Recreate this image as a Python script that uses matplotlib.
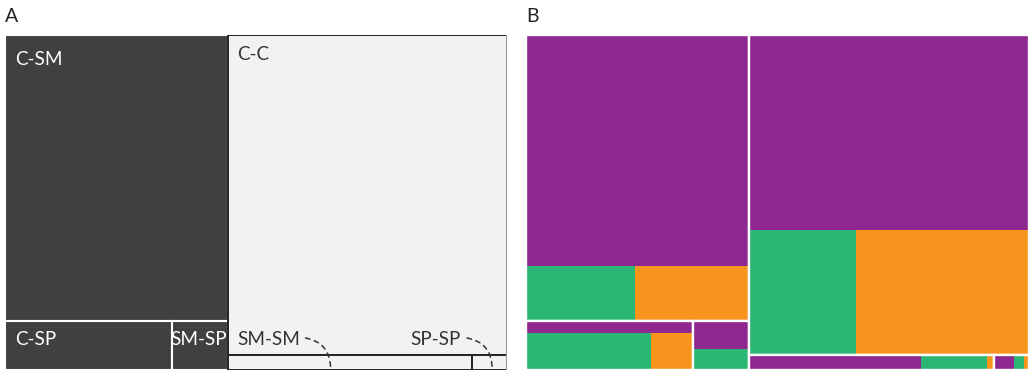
import matplotlib.pyplot as plt
from matplotlib.patches import Rectangle

plt.rcParams['font.family'] = ['Lato', 'DejaVu Sans']

# tipos de par e sua participacao no total (%)
pares = ['C-SM', 'C-SP', 'SM-SP', 'C-C', 'SM-SM', 'SP-SP']
valores = [37.9, 4.87, 1.63, 53.1, 2.18, 0.31]
# duas colunas: um bloco grande em cima e dois blocos lado a lado embaixo
colunas = [['C-SM', 'C-SP', 'SM-SP'], ['C-C', 'SM-SM', 'SP-SP']]

# painel B: composicao de cada tipo de par (roxo, verde, laranja), em %
roxo = [80.7, 25.0, 57.0, 60.8, 70.0, 57.6]
verde = [9.4, 56.0, 42.0, 15.0, 27.2, 27.3]
laranja = [9.9, 19.0, 1.0, 24.2, 2.8, 15.1]
em_linha = ['SM-SM', 'SP-SP']  # blocos muito achatados: as tres cores lado a lado

escuros = ['C-SM', 'C-SP', 'SM-SP']

COR_ESCURO = '#404040'
COR_CLARO = '#f1f2f4'
CORES_B = ['#8e278f', '#2bb673', '#f7941d']


def layout(vals):
    v = dict(zip(pares, vals))
    total = sum(vals)
    rects = {}
    x = 0
    for topo, a, b in colunas:
        soma = v[topo] + v[a] + v[b]
        w = soma / total
        h_topo = v[topo] / soma
        rects[topo] = (x, 1 - h_topo, w, h_topo)
        wa = w * v[a] / (v[a] + v[b])
        rects[a] = (x, 0, wa, 1 - h_topo)
        rects[b] = (x + wa, 0, w - wa, 1 - h_topo)
        x += w
    return rects


rects = layout(valores)

W, H = 1029, 371
fig = plt.figure(figsize=(W / 100, H / 100), dpi=100)
axA = fig.add_axes([5 / W, 1 / H, 502 / W, 335 / H])
axB = fig.add_axes([526 / W, 1 / H, 503 / W, 335 / H])
for ax in (axA, axB):
    ax.set_xlim(0, 1)
    ax.set_ylim(0, 1)
    ax.axis('off')

fig.text(5 / W, 1 - 22 / H, 'A', fontsize=14, color='#222222', va='baseline')
fig.text(526 / W, 1 - 22 / H, 'B', fontsize=14, color='#222222', va='baseline')

# ---- Painel A
for p in escuros:
    x, y, w, h = rects[p]
    axA.add_patch(Rectangle((x, y), w, h, facecolor=COR_ESCURO, edgecolor='white', lw=1.5))
for p in pares:
    if p in escuros:
        continue
    x, y, w, h = rects[p]
    axA.add_patch(Rectangle((x, y), w, h, facecolor=COR_CLARO, edgecolor='#222222', lw=1.4))
x, y, w, h = rects['C-C']
axA.plot([x + w, x + w], [0, 1], color='#999999', lw=1.5)

px = 0.72  # pontos por pixel


def rotulo(texto, xy, dx, dy, cor, ha='left'):
    axA.annotate(texto, xy=xy, xytext=(dx * px, dy * px), textcoords='offset points',
                 fontsize=13.6, color=cor, ha=ha, va='baseline')


def seta(xy, dx, dy):
    axA.annotate('', xy=xy, xytext=(dx * px, dy * px), textcoords='offset points',
                 arrowprops=dict(arrowstyle='-', color='#333333', lw=1.1, linestyle=(0, (3, 3)),
                                 connectionstyle='arc3,rad=-0.4', shrinkA=0, shrinkB=0))


x, y, w, h = rects['C-SM']
rotulo('C-SM', (x, y + h), 10, -30, 'white')
x, y, w, h = rects['C-C']
rotulo('C-C', (x, y + h), 9, -25, '#333333')
x, y, w, h = rects['C-SP']
rotulo('C-SP', (x, y + h), 10, -24, 'white')
x, y, w, h = rects['SM-SP']
rotulo('SM-SP', (x + w, y + h), -1, -24, 'white', ha='right')
x, y, w, h = rects['SM-SM']
rotulo('SM-SM', (x, y + h), 9, 10, '#333333')
seta((x + 0.42 * w, y + 0.2 * h), -25, 29)
x, y, w, h = rects['SP-SP']
rotulo('SP-SP', (x, y + h), -12, 10, '#333333', ha='right')
seta((x + 0.57 * w, y + 0.2 * h), -25, 29)

# ---- Painel B
for i, p in enumerate(pares):
    x, y, w, h = rects[p]
    partes = [roxo[i], verde[i], laranja[i]]
    tot = sum(partes)
    if p in em_linha:
        xi = x
        for val, cor in zip(partes, CORES_B):
            wi = w * val / tot
            axB.add_patch(Rectangle((xi, y), wi, h, facecolor=cor, lw=0))
            xi += wi
    else:
        hp = h * partes[0] / tot
        axB.add_patch(Rectangle((x, y + h - hp), w, hp, facecolor=CORES_B[0], lw=0))
        wg = w * partes[1] / (partes[1] + partes[2])
        axB.add_patch(Rectangle((x, y), wg, h - hp, facecolor=CORES_B[1], lw=0))
        axB.add_patch(Rectangle((x + wg, y), w - wg, h - hp, facecolor=CORES_B[2], lw=0))
    axB.add_patch(Rectangle((x, y), w, h, facecolor='none', edgecolor='white', lw=1.7))

fig.savefig('out.png', dpi=100)
